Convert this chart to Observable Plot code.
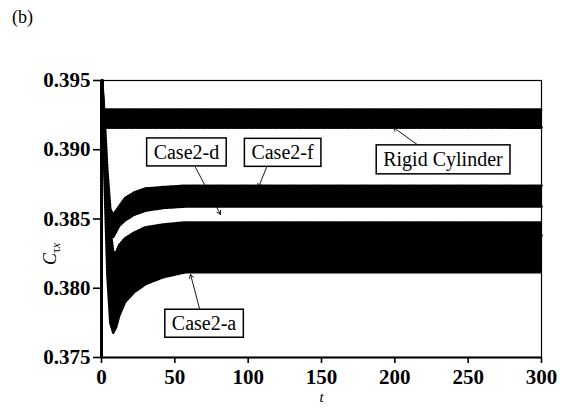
<!DOCTYPE html>
<html><head><meta charset="utf-8">
<script src="https://cdn.jsdelivr.net/npm/d3@7"></script>
<script src="https://cdn.jsdelivr.net/npm/@observablehq/plot@0.6"></script>
<style>
html,body{margin:0;padding:0;background:#fff;}
#wrap{position:relative;width:565px;height:408px;}
#panel{position:absolute;left:12px;top:7px;font-size:18px;font-family:'Liberation Serif';color:#000;}
</style></head><body>
<div id="wrap"><div id="panel">(b)</div><div id="chart"></div></div>
<script>
// ---- data (envelope of the oscillating C_tx signal) ----
const xTicks = [0, 50, 100, 150, 200, 250, 300];
const yTicks = [0.375, 0.380, 0.385, 0.390, 0.395];

const tRigid   = [0.3, 1.5, 3, 300];
const rigidLo  = [0.3950, 0.3917, 0.3916, 0.3916];
const rigidHi  = [0.3950, 0.3929, 0.3929, 0.3929];

const tCase    = [0.5, 2, 4, 6, 8, 10, 12, 16, 22, 30, 42, 57, 80, 300];
const case2fLo = [0.3950, 0.3905, 0.3862, 0.3840, 0.3837, 0.3841, 0.3845, 0.3849, 0.3853, 0.3856, 0.3858, 0.3859, 0.3859, 0.3859];
const case2fHi = [0.3950, 0.3925, 0.3885, 0.3857, 0.3853, 0.3856, 0.3859, 0.3865, 0.3869, 0.3872, 0.3873, 0.3874, 0.3874, 0.3874];
const case2dLo = [0.3950, 0.3900, 0.3845, 0.3812, 0.3792, 0.3790, 0.3795, 0.3808, 0.3818, 0.3824, 0.3828, 0.3829, 0.3829, 0.3829];
const case2dHi = [0.3950, 0.3915, 0.3870, 0.3842, 0.3826, 0.3826, 0.3831, 0.3836, 0.3840, 0.3844, 0.3846, 0.38475, 0.38475, 0.38475];
const case2aLo = [0.3950, 0.3880, 0.3810, 0.3775, 0.3768, 0.3772, 0.3780, 0.3790, 0.3797, 0.3803, 0.3808, 0.38115, 0.38115, 0.38115];
const case2aHi = [0.3950, 0.3900, 0.3835, 0.3800, 0.3795, 0.3800, 0.3806, 0.3816, 0.3824, 0.3830, 0.3834, 0.3837, 0.3838, 0.3838];

// annotation labels (centre in data units) and leader arrows
const labelNames = ["Case2-d", "Case2-f", "Rigid Cylinder", "Case2-a"];
const labelT     = [57.9, 123.4, 232.8, 69.9];
const labelV     = [0.38980, 0.38977, 0.38930, 0.37743];
const arrowT1    = [64.1, 112.5, 216.1, 67.5];
const arrowV1    = [0.38872, 0.38872, 0.39031, 0.37826];
const arrowT2    = [81.1, 107.0, 199.0, 60.7];
const arrowV2    = [0.38533, 0.38728, 0.39161, 0.38100];

// ---- tables built from the arrays ----
const series = [
  {name: "Rigid Cylinder", t: tRigid, lo: rigidLo, hi: rigidHi},
  {name: "Case2-f", t: tCase, lo: case2fLo, hi: case2fHi},
  {name: "Case2-d", t: tCase, lo: case2dLo, hi: case2dHi},
  {name: "Case2-a", t: tCase, lo: case2aLo, hi: case2aHi}
];
const rows = series.flatMap(s => s.t.map((t, i) => ({name: s.name, t, lo: s.lo[i], hi: s.hi[i]})));
const labels = labelNames.map((n, i) => ({name: n, t: labelT[i], v: labelV[i]}));
const arrows = labelNames.map((n, i) => ({t1: arrowT1[i], v1: arrowV1[i], t2: arrowT2[i], v2: arrowV2[i]}));

const FONT = "Liberation Serif";

const plot = Plot.plot({
  width: 565, height: 408,
  marginLeft: 101, marginRight: 24, marginTop: 80, marginBottom: 51,
  x: {domain: [0, 300]},
  y: {domain: [0.375, 0.395]},
  style: "font-family: 'Liberation Serif'; font-size: 21px; font-weight: bold; background: white; color: black;",
  marks: [
    Plot.areaY(rows, {x: "t", y1: "lo", y2: "hi", z: "name", fill: "black"}),
    Plot.lineY(rows, {x: "t", y: "hi", z: "name", stroke: "black", strokeWidth: 2.6, strokeDasharray: "1.6 1.4"}),
    Plot.lineY(rows, {x: "t", y: "lo", z: "name", stroke: "black", strokeWidth: 2.6, strokeDasharray: "1.6 1.4"}),
    Plot.frame({stroke: "black", strokeWidth: 1.2}),
    Plot.ruleX([0], {stroke: "black", strokeWidth: 3}),
    Plot.ruleY([0.375], {stroke: "black", strokeWidth: 2}),
    Plot.axisY({ticks: yTicks, tickFormat: d3.format(".3f"), tickSize: 8, tickPadding: 3, strokeWidth: 1.6, label: null}),
    Plot.axisX({ticks: xTicks, tickSize: 6, tickPadding: 6, strokeWidth: 1.6, label: null}),
    Plot.arrow(arrows, {x1: "t1", y1: "v1", x2: "t2", y2: "v2", stroke: "black", strokeWidth: 0.9, headLength: 7}),
    Plot.text(labels, {x: "t", y: "v", text: "name", fontWeight: "normal", fontSize: 20, fill: "black", ariaDescription: "boxlabel"}),
    Plot.text(["t"], {frameAnchor: "bottom", dy: 44, fontStyle: "italic", fontWeight: "normal", fontSize: 15, fill: "black"})
  ]
});
document.getElementById("chart").appendChild(plot);

const svg = d3.select(plot);
// force the serif face on every text element
svg.attr("font-family", FONT).style("font-family", FONT);
svg.selectAll("g").attr("font-family", null);
svg.selectAll("text").style("font-family", FONT);

// boxes around the annotation labels, sized from the text itself
svg.selectAll('g[aria-description="boxlabel"] text').each(function() {
  const b = this.getBBox();
  const padX = 7, padY = 4;
  d3.select(this.parentNode).insert("rect", () => this)
    .attr("transform", this.getAttribute("transform"))
    .attr("x", b.x - padX).attr("y", b.y - padY + 1)
    .attr("width", b.width + 2 * padX).attr("height", b.height + 2 * padY - 2)
    .attr("fill", "white").attr("stroke", "black").attr("stroke-width", 1.5);
});

// y-axis label C_tx
const yl = svg.append("text")
  .attr("transform", "translate(56,254) rotate(-90)")
  .attr("text-anchor", "middle")
  .style("font-family", FONT)
  .attr("font-weight", "normal")
  .attr("fill", "black");
yl.append("tspan").attr("font-style", "italic").attr("font-size", 18).text("C");
yl.append("tspan").attr("font-size", 12).attr("dy", 4).text("τ");
yl.append("tspan").attr("font-size", 12).attr("font-style", "italic").text("x");
</script>
</body></html>
